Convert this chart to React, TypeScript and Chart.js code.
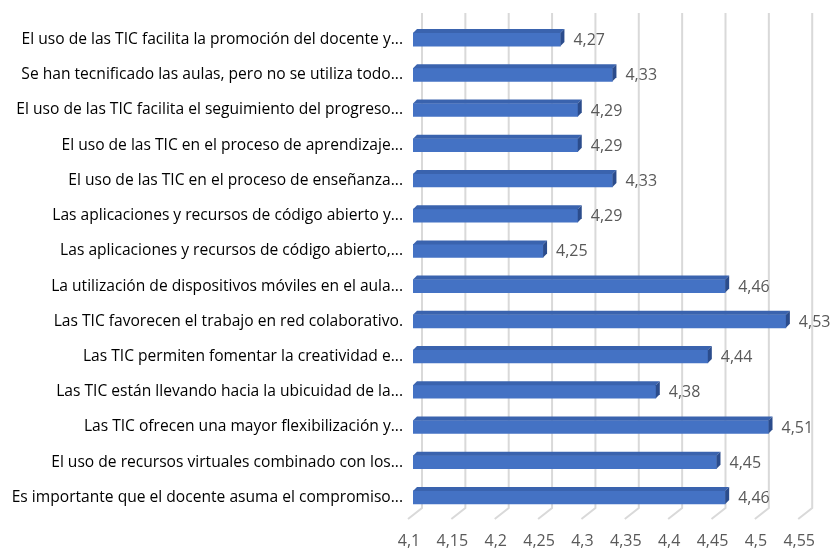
import React, { useEffect, useRef } from "react";
import { Chart, registerables } from "chart.js";

Chart.register(...registerables);

const categories = [
  "El uso de las TIC facilita la promoción del docente y...",
  "Se han tecnificado las aulas, pero no se utiliza todo...",
  "El uso de las TIC facilita el seguimiento del progreso...",
  "El uso de las TIC en el proceso de aprendizaje...",
  "El uso de las TIC en el proceso de enseñanza...",
  "Las aplicaciones y recursos de código abierto y...",
  "Las aplicaciones y recursos de código abierto,...",
  "La utilización de dispositivos móviles en el aula...",
  "Las TIC favorecen el trabajo en red colaborativo.",
  "Las TIC permiten fomentar la creatividad e...",
  "Las TIC están llevando hacia la ubicuidad de la...",
  "Las TIC ofrecen una mayor flexibilización y...",
  "El uso de recursos virtuales combinado con los...",
  "Es importante que el docente asuma el compromiso...",
];

const values = [4.27, 4.33, 4.29, 4.29, 4.33, 4.29, 4.25, 4.46, 4.53, 4.44, 4.38, 4.51, 4.45, 4.46];

const xMin = 4.1;
const xMax = 4.55;
const xStep = 0.05;

const FONT = "'Open Sans', 'Noto Sans', sans-serif";
const fmt = (v: number) => String(Number(v.toFixed(2))).replace(".", ",");

const DX = 4;
const DY = -4;

const backGrid = {
  id: "backGrid",
  beforeDatasetsDraw(chart: any) {
    const { ctx, chartArea, scales } = chart;
    const xs = scales.x;
    ctx.save();
    ctx.strokeStyle = "#d9d9d9";
    ctx.lineWidth = 2;
    xs.ticks.forEach((t: any) => {
      const px = xs.getPixelForValue(t.value);
      ctx.beginPath();
      ctx.moveTo(px + 9, 13);
      ctx.lineTo(px + 9, chartArea.bottom - 7);
      ctx.lineTo(px - 5, chartArea.bottom + 4);
      ctx.stroke();
    });
    ctx.restore();
  },
};

const bars3d = {
  id: "bars3d",
  afterDatasetsDraw(chart: any) {
    const { ctx, chartArea } = chart;
    const meta = chart.getDatasetMeta(0);
    ctx.save();
    meta.data.forEach((el: any, i: number) => {
      const p = el.getProps(["x", "y", "base", "height"], true);
      const x = p.x;
      const y = p.y;
      const base = Math.max(Math.min(p.base, p.x), chartArea.left);
      const top = y - p.height / 2;
      const bot = y + p.height / 2;
      ctx.fillStyle = "#3A63AE";
      ctx.beginPath();
      ctx.moveTo(base, top);
      ctx.lineTo(base + DX, top + DY);
      ctx.lineTo(x + DX, top + DY);
      ctx.lineTo(x, top);
      ctx.closePath();
      ctx.fill();
      ctx.fillStyle = "#2B4C8C";
      ctx.beginPath();
      ctx.moveTo(x, top);
      ctx.lineTo(x + DX, top + DY);
      ctx.lineTo(x + DX, bot + DY);
      ctx.lineTo(x, bot);
      ctx.closePath();
      ctx.fill();
      ctx.fillStyle = "#595959";
      ctx.font = `16px ${FONT}`;
      ctx.textAlign = "left";
      ctx.textBaseline = "middle";
      ctx.fillText(fmt(values[i]), x + DX + 9, y + 1);
    });
    ctx.restore();
  },
};

export default function App() {
  const ref = useRef<HTMLCanvasElement | null>(null);
  useEffect(() => {
    document.body.style.margin = "0";
    if (!ref.current) return;
    const chart = new Chart(ref.current, {
      type: "bar",
      data: {
        labels: categories,
        datasets: [
          {
            data: values,
            backgroundColor: "#4472C4",
            borderWidth: 0,
            barThickness: 13,
          },
        ],
      },
      plugins: [backGrid, bars3d],
      options: {
        indexAxis: "y",
        responsive: false,
        animation: false,
        layout: { padding: { top: 22, right: 27, left: 0, bottom: 0 } },
        plugins: { legend: { display: false }, tooltip: { enabled: false } },
        scales: {
          x: {
            min: xMin,
            max: xMax,
            grid: { display: false, drawTicks: false },
            border: { display: false },
            afterFit(scale: any) {
              scale.height = 34;
            },
            ticks: {
              stepSize: xStep,
              padding: 17,
              labelOffset: -4,
              color: "#595959",
              font: { family: FONT, size: 16 },
              autoSkip: false,
              maxRotation: 0,
              callback: (v: any) => fmt(Number(v)),
            },
          },
          y: {
            grid: { display: false, drawTicks: false },
            border: { display: false },
            afterFit(scale: any) {
              scale.width = 413;
            },
            ticks: {
              padding: 10,
              color: "#000000",
              autoSkip: false,
              font: { family: FONT, size: 15.6 },
            },
          },
        },
      },
    });
    return () => chart.destroy();
  }, []);
  return (
    <div style={{ width: 836, height: 549 }}>
      <canvas ref={ref} width={836} height={549} />
    </div>
  );
}
